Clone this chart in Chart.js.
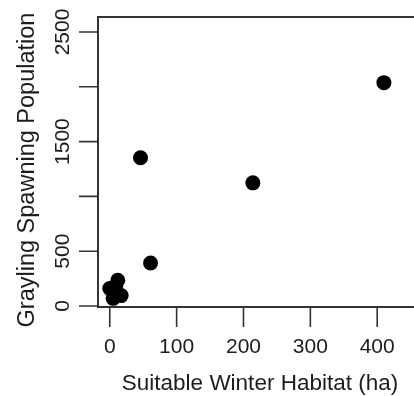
<!DOCTYPE html>
<html>
<head>
<meta charset="utf-8">
<script src="https://cdn.jsdelivr.net/npm/chart.js@4/dist/chart.umd.min.js"></script>
<style>
  html, body { margin: 0; padding: 0; background: #fff; }
  #wrap { width: 414px; height: 396px; overflow: hidden; position: relative; }
  canvas { display: block; }
</style>
</head>
<body>
<div id="wrap"><canvas id="chart" width="440" height="396"></canvas></div>
<script>
// habitat (ha) vs spawning population
const habitat = [410, 46, 214, 61, 12, 0, 17, 5, 8, 9];
const spawners = [2038, 1353, 1124, 393, 235, 160, 95, 70, 130, 180];

const xTicks = [0, 100, 200, 300, 400];
const yTicks = [0, 500, 1000, 1500, 2000, 2500];
const yTickLabels = ['0', '500', '', '1500', '', '2500']; // R drops the ones that overlap

const xTitle = 'Suitable Winter Habitat (ha)';
const yTitle = 'Grayling Spawning Population';

const ink = '#1c1c1c';
const lineCol = '#333';

// box + R style ticks and labels
const rAxes = {
  id: 'rAxes',
  afterDraw(chart) {
    const ctx = chart.ctx;
    const a = chart.chartArea;
    const xs = chart.scales.x, ys = chart.scales.y;
    ctx.save();
    ctx.strokeStyle = lineCol;
    ctx.lineWidth = 2;
    ctx.strokeRect(a.left, a.top, a.right - a.left, a.bottom - a.top);

    ctx.lineWidth = 1.6;
    ctx.beginPath();
    xTicks.forEach(v => {
      const px = xs.getPixelForValue(v);
      ctx.moveTo(px, a.bottom);
      ctx.lineTo(px, a.bottom + 20);
    });
    yTicks.forEach(v => {
      const py = ys.getPixelForValue(v);
      ctx.moveTo(a.left, py);
      ctx.lineTo(a.left - 19, py);
    });
    ctx.stroke();

    ctx.fillStyle = ink;
    ctx.textAlign = 'center';
    ctx.textBaseline = 'middle';
    ctx.font = '21px "Liberation Sans", Arial, sans-serif';
    xTicks.forEach(v => {
      ctx.fillText(String(v), xs.getPixelForValue(v), 347);
    });
    yTicks.forEach((v, i) => {
      if (!yTickLabels[i]) return;
      ctx.save();
      ctx.translate(63, ys.getPixelForValue(v));
      ctx.rotate(-Math.PI / 2);
      ctx.fillText(yTickLabels[i], 0, 0);
      ctx.restore();
    });

    ctx.font = '22.5px "Liberation Sans", Arial, sans-serif';
    ctx.fillText(xTitle, 260, 384);
    ctx.font = '23.5px "Liberation Sans", Arial, sans-serif';
    ctx.save();
    ctx.translate(28, 170);
    ctx.rotate(-Math.PI / 2);
    ctx.fillText(yTitle, 0, 0);
    ctx.restore();
    ctx.restore();
  }
};

new Chart(document.getElementById('chart'), {
  type: 'scatter',
  data: {
    datasets: [{
      data: habitat.map((h, i) => ({ x: h, y: spawners[i] })),
      backgroundColor: '#000',
      borderWidth: 0,
      pointRadius: 7.5,
      pointHoverRadius: 7.5
    }]
  },
  options: {
    responsive: false,
    animation: false,
    events: [],
    layout: { padding: { left: 98, top: 17, right: 18, bottom: 89 } },
    plugins: { legend: { display: false }, tooltip: { enabled: false } },
    scales: {
      x: { type: 'linear', min: -17.6, max: 467, display: false },
      y: { type: 'linear', min: -9, max: 2637, display: false }
    }
  },
  plugins: [rAxes]
});
</script>
</body>
</html>
